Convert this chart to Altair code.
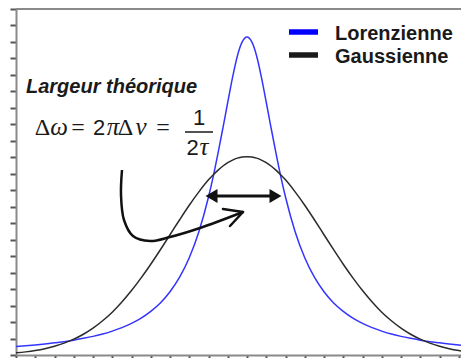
import altair as alt
import pandas as pd

# ---- data (x in arbitrary frequency units, y in tick units) ----
x_vals = [-12, -11.5, -11, -10.5, -10, -9.5, -9, -8.5, -8, -7.5, -7, -6.5, -6, -5.5, -5,
          -4.5, -4, -3.5, -3, -2.5, -2, -1.75, -1.5, -1.25, -1, -0.75, -0.5, -0.25, 0,
          0.25, 0.5, 0.75, 1, 1.25, 1.5, 1.75, 2, 2.5, 3, 3.5, 4, 4.5, 5, 5.5, 6, 6.5,
          7, 7.5, 8, 8.5, 9, 9.5, 10, 10.5, 11, 11.5, 12]
lorentz = [0.52, 0.56, 0.61, 0.67, 0.74, 0.81, 0.90, 1.01, 1.13, 1.27, 1.45, 1.66, 1.92, 2.24, 2.65,
           3.16, 3.84, 4.72, 5.90, 7.48, 9.59, 10.86, 12.28, 13.79, 15.34, 16.85, 18.15, 19.0, 19.3,
           19.0, 18.15, 16.85, 15.34, 13.79, 12.28, 10.86, 9.59, 7.48, 5.90, 4.72, 3.84, 3.16, 2.65,
           2.24, 1.92, 1.66, 1.45, 1.27, 1.13, 1.01, 0.90, 0.81, 0.74, 0.67, 0.61, 0.56, 0.52]
gauss = [0.13, 0.19, 0.27, 0.38, 0.53, 0.72, 0.96, 1.26, 1.63, 2.08, 2.60, 3.22, 3.91, 4.68, 5.51,
         6.39, 7.30, 8.21, 9.09, 9.90, 10.63, 10.94, 11.22, 11.47, 11.67, 11.83, 11.95, 12.02, 12.04,
         12.02, 11.95, 11.83, 11.67, 11.47, 11.22, 10.94, 10.63, 9.90, 9.09, 8.21, 7.30, 6.39, 5.51,
         4.68, 3.91, 3.22, 2.60, 2.08, 1.63, 1.26, 0.96, 0.72, 0.53, 0.38, 0.27, 0.19, 0.13]
series_names = ["Lorenzienne", "Gaussienne"]
series_colors = ["#3434ff", "#2b2b2b"]
x_ticks = list(range(-12, 12))
y_ticks = list(range(0, 22))

# ---- layout ----
PX_PER_UNIT = 19.25
W, H = 445, 346
X_DOM = [-12, -12 + W / PX_PER_UNIT]
Y_DOM = [0, 21]


def ux(px):
    return X_DOM[0] + px / W * (X_DOM[1] - X_DOM[0])


def vy(py):
    return Y_DOM[1] - py / H * (Y_DOM[1] - Y_DOM[0])


xs = alt.Scale(domain=X_DOM, nice=False, zero=False)
ys = alt.Scale(domain=Y_DOM, nice=False, zero=False)

axis_common = dict(labels=False, ticks=True, tickSize=6, tickWidth=2, tickColor="#555555",
                   domainColor="#8a8a8a", domainWidth=2, grid=False, title=None)
X_AXIS = alt.Axis(values=x_ticks, **axis_common)
Y_AXIS = alt.Axis(values=y_ticks, **axis_common)


def X(f="x"):
    return alt.X(f + ":Q", scale=xs, axis=X_AXIS)


def Y(f="y"):
    return alt.Y(f + ":Q", scale=ys, axis=Y_AXIS)


curves = pd.DataFrame({
    "x": x_vals * 2,
    "y": lorentz + gauss,
    "serie": [series_names[0]] * len(x_vals) + [series_names[1]] * len(x_vals),
})

lines = alt.Chart(curves).mark_line(strokeWidth=1.5, interpolate="monotone", clip=True).encode(
    x=X(), y=Y(),
    color=alt.Color("serie:N", scale=alt.Scale(domain=series_names, range=series_colors), legend=None),
)

top_border = alt.Chart(pd.DataFrame({"a": [0]})).mark_rule(color="#8a8a8a", strokeWidth=2).encode(
    y=alt.value(0)
)

# ---- annotation: title text ----
title_df = pd.DataFrame({"t": ["Largeur théorique"], "x": [ux(10)], "y": [vy(84)]})
title_txt = alt.Chart(title_df).mark_text(
    font="Liberation Sans", fontSize=20, fontWeight="bold", fontStyle="italic",
    align="left", baseline="alphabetic", color="#1a1a1a"
).encode(x=X(), y=Y(), text="t:N")

# ---- formula pieces ----
up_df = pd.DataFrame({"t": ["Δ", "=", "Δ", "="],
                      "x": [ux(26.5), ux(62), ux(109.5), ux(147)],
                      "y": [vy(126)] * 4})
it_df = pd.DataFrame({"t": ["ω", "π", "ν", "τ"],
                      "x": [ux(43), ux(97), ux(125), ux(188)],
                      "y": [vy(126), vy(126), vy(126), vy(146)]})
sans_df = pd.DataFrame({"t": ["2", "1", "2"],
                        "x": [ux(83), ux(183), ux(176.5)],
                        "y": [vy(126), vy(116), vy(146)]})
f_up = alt.Chart(up_df).mark_text(font="Liberation Serif", fontSize=24, align="center",
                                  baseline="alphabetic", color="#1a1a1a").encode(x=X(), y=Y(), text="t:N")
f_it = alt.Chart(it_df).mark_text(font="Liberation Serif", fontSize=25, fontStyle="italic", align="center",
                                  baseline="alphabetic", color="#1a1a1a").encode(x=X(), y=Y(), text="t:N")
f_sans = alt.Chart(sans_df).mark_text(font="Liberation Sans", fontSize=22, align="center",
                                      baseline="alphabetic", color="#1a1a1a").encode(x=X(), y=Y(), text="t:N")
frac_df = pd.DataFrame({"x": [ux(169)], "x2": [ux(197)], "y": [vy(123)]})
frac = alt.Chart(frac_df).mark_rule(color="#1a1a1a", strokeWidth=1.5).encode(
    x=X(), x2="x2:Q", y=Y())

# ---- double arrow (width) ----
shaft_df = pd.DataFrame({"x": [ux(196)], "x2": [ux(260)], "y": [vy(187)]})
shaft = alt.Chart(shaft_df).mark_rule(color="#111111", strokeWidth=3).encode(x=X(), x2="x2:Q", y=Y())
head_l = alt.Chart(pd.DataFrame({"x": [ux(195.5)], "y": [vy(187)]})).mark_point(
    shape="triangle-left", filled=True, size=190, color="#111111", opacity=1).encode(x=X(), y=Y())
head_r = alt.Chart(pd.DataFrame({"x": [ux(259.5)], "y": [vy(187)]})).mark_point(
    shape="triangle-right", filled=True, size=190, color="#111111", opacity=1).encode(x=X(), y=Y())

# ---- curved arrow ----
path_px = [106, 105, 108, 117, 134, 154, 184, 227]
path_py = [161, 186, 211, 227, 232, 228, 219, 203]
path_df = pd.DataFrame({"i": list(range(len(path_px))),
                        "x": [ux(p) for p in path_px],
                        "y": [vy(p) for p in path_py]})
curved = alt.Chart(path_df).mark_line(color="#111111", strokeWidth=2.5, interpolate="catmull-rom").encode(
    x=X(), y=Y(), order="i:Q")
arms_df = pd.DataFrame({"x": [ux(227), ux(227)], "y": [vy(203), vy(203)],
                        "x2": [ux(207), ux(214)], "y2": [vy(200), vy(217)]})
arms = alt.Chart(arms_df).mark_rule(color="#111111", strokeWidth=2.5, strokeCap="round").encode(
    x=X(), y=Y(), x2="x2:Q", y2="y2:Q")

# ---- legend (drawn) ----
leg_df = pd.DataFrame({"serie": series_names,
                       "x": [ux(273)] * 2, "x2": [ux(302)] * 2,
                       "y": [vy(23), vy(46)],
                       "tx": [ux(319)] * 2, "ty": [vy(31), vy(54)]})
leg_lines = alt.Chart(leg_df).mark_rule(strokeWidth=5.5).encode(
    x=X(), x2="x2:Q", y=Y(),
    color=alt.Color("serie:N", scale=alt.Scale(domain=series_names, range=["#0000ff", "#1a1a1a"]), legend=None))
leg_txt = alt.Chart(leg_df).mark_text(font="Liberation Sans", fontSize=20, fontWeight="bold",
                                      align="left", baseline="alphabetic", color="#1a1a1a").encode(
    x=X("tx"), y=Y("ty"), text="serie:N")

chart = alt.layer(
    lines, top_border, title_txt, f_up, f_it, f_sans, frac, shaft, head_l, head_r,
    curved, arms, leg_lines, leg_txt
).resolve_scale(color="independent").properties(
    width=W, height=H,
    autosize=alt.AutoSizeParams(type="none"),
    padding={"left": 8, "top": 1, "right": 0, "bottom": 10},
    background="white",
).configure_view(stroke=None)

chart.save("out.html", embed_options={"renderer": "svg", "actions": False})
